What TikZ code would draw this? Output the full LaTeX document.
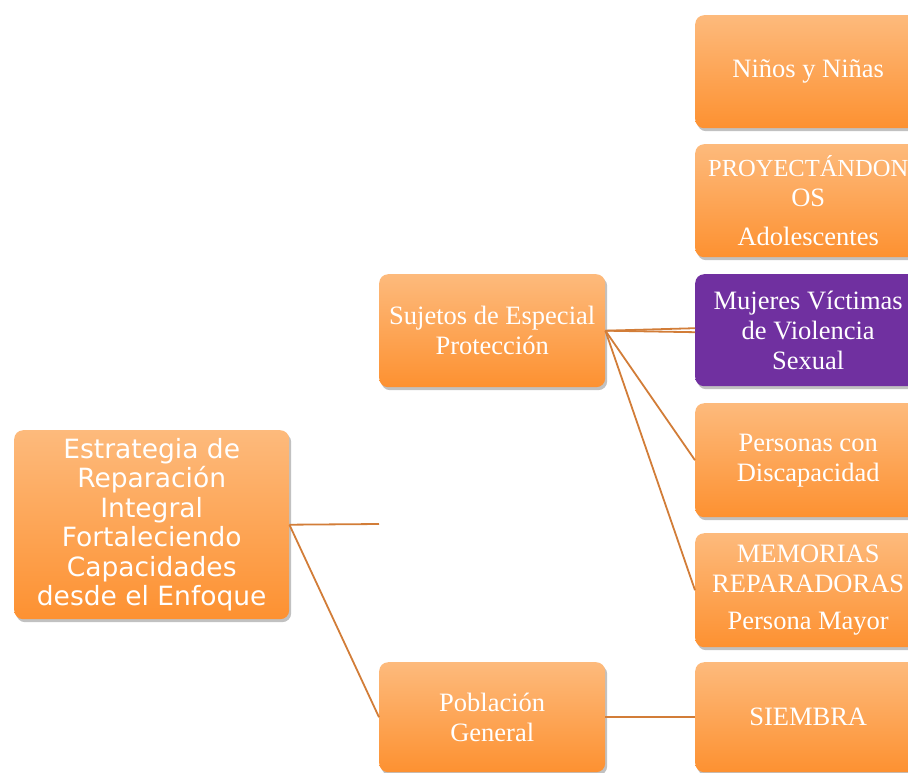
\documentclass[tikz,border=0pt]{standalone}
\usepackage{fontspec}
\setmainfont{Liberation Serif}
\newfontfamily\verd{DejaVu Sans}
\usetikzlibrary{shadows,calc}
\definecolor{otop}{HTML}{FDBA7C}
\definecolor{obot}{HTML}{FD9131}
\definecolor{purp}{HTML}{7030A0}
\definecolor{lnk}{HTML}{D27D38}
\tikzset{
  box/.style={anchor=north west, rounded corners=9pt, top color=otop, bottom color=obot,
    draw=none, text=white, align=center, inner sep=0pt,
    drop shadow={shadow xshift=2pt, shadow yshift=-3pt, opacity=0.35, fill=black!70}},
  pbox/.style={box, top color=purp, bottom color=purp},
  serif/.style={font=\fontsize{26.5}{30}\selectfont},
  sans/.style={font=\verd\fontsize{26.5}{29.4}\selectfont},
  link/.style={draw=lnk, line width=1.8pt}
}
\begin{document}
\begin{tikzpicture}[x=1pt,y=-1pt]
\useasboundingbox (0,0) rectangle (908,772);
\clip (0,0) rectangle (908,772);
\node[box, sans, minimum width=275pt, minimum height=189pt] (L) at (14,430) {Estrategia de\\Reparación\\Integral\\Fortaleciendo\\Capacidades\\desde el Enfoque};
\node[box, serif, minimum width=226pt, minimum height=113pt] (S) at (379,274) {Sujetos de Especial\\Protección};
\node[box, serif, minimum width=226pt, minimum height=110pt] (P) at (379,662) {Población\\General};
\node[box, serif, minimum width=226pt, minimum height=113pt] (N) at (695,15) {\raisebox{-2pt}{Niños y Niñas}};
\node[box, serif, minimum width=226pt, minimum height=113pt] (A) at (695,144) {{\fontsize{24.5}{30}\selectfont PROYECTÁNDON}\\OS\\[9pt]Adolescentes};
\node[pbox, serif, minimum width=226pt, minimum height=112pt] (M) at (695,274) {Mujeres Víctimas\\de Violencia\\Sexual};
\node[box, serif, minimum width=226pt, minimum height=114pt] (D) at (695,403) {Personas con\\Discapacidad};
\node[box, serif, minimum width=226pt, minimum height=114pt] (E) at (695,533) {MEMORIAS\\REPARADORAS\\[7pt]Persona Mayor};
\node[box, serif, minimum width=226pt, minimum height=110pt] (B) at (695,662) {SIEMBRA};
\coordinate (free) at (379,524);
\draw[link] (L.east) -- (free);
\draw[link] (L.east) -- (P.west);
\draw[link] (S.east) -- ([yshift=-2pt]M.west);
\draw[link] (S.east) -- ([yshift=2pt]M.west);
\draw[link] (S.east) -- (D.west);
\draw[link] (S.east) -- (E.west);
\draw[link] (P.east) -- (B.west);
\end{tikzpicture}
\end{document}
